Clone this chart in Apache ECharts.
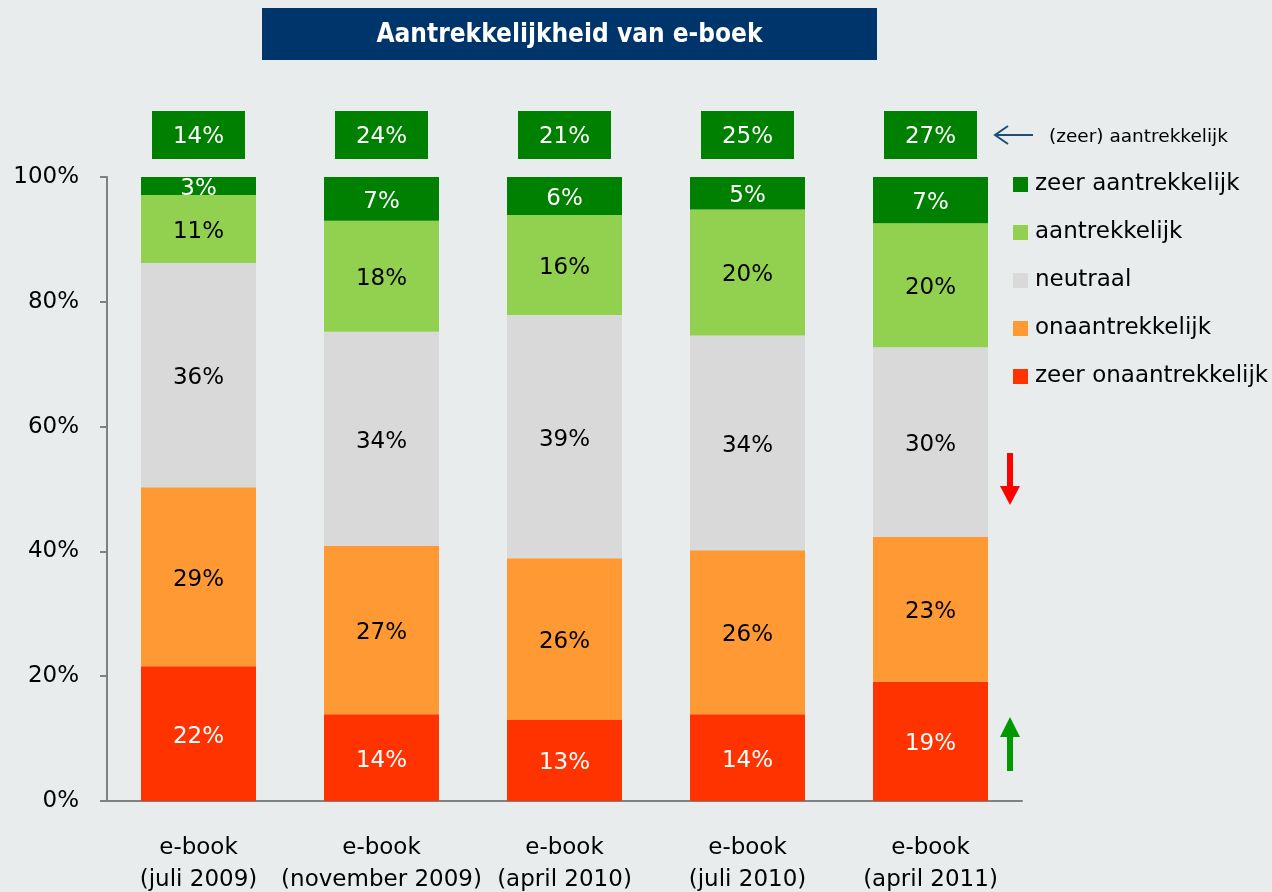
<!DOCTYPE html>
<html>
<head>
<meta charset="utf-8">
<script src="https://cdn.jsdelivr.net/npm/echarts@6/dist/echarts.min.js"></script>
<style>
html, body { margin: 0; padding: 0; background: #E8ECED; }
#main { width: 1272px; height: 892px; }
</style>
</head>
<body>
<div id="main"></div>
<script>
//////////// data //////////////////
var categories = ['e-book\n(juli 2009)', 'e-book\n(november 2009)', 'e-book\n(april 2010)', 'e-book\n(juli 2010)', 'e-book\n(april 2011)'];
var zeerOnaantrekkelijk = [21.6, 13.9, 13.0, 13.9, 19.1];
var onaantrekkelijk = [28.7, 27.0, 25.9, 26.3, 23.2];
var neutraal = [35.9, 34.3, 39.0, 34.4, 30.4];
var aantrekkelijk = [10.9, 17.8, 16.0, 20.2, 19.9];
var zeerAantrekkelijk = [2.9, 7.1, 6.1, 5.2, 7.4];
var totaalAantrekkelijk = [14, 24, 21, 25, 27];
var yTicks = [0, 20, 40, 60, 80, 100];

var font = 'DejaVu Sans';
var fs = 23;

function seg(name, data, color, labelColor) {
    return {
        name: name,
        type: 'bar',
        stack: 'totaal',
        barWidth: 115,
        data: data,
        itemStyle: { color: color },
        label: {
            show: true,
            position: 'inside',
            offset: [0, 3],
            color: labelColor,
            fontFamily: font,
            fontSize: fs,
            formatter: function (p) { return Math.round(p.value) + '%'; }
        },
        emphasis: { disabled: true }
    };
}

var dom = document.getElementById('main');
var myChart = echarts.init(dom, null, { renderer: 'canvas' });
var option = {
    backgroundColor: '#E8ECED',
    animation: false,
    textStyle: { fontFamily: font },
    grid: [
        { left: 107, right: 250, top: 177, bottom: 91, outerBoundsMode: 'none', containLabel: false },
        { left: 107, right: 250, top: 111, height: 48, outerBoundsMode: 'none', containLabel: false }
    ],
    legend: {
        orient: 'vertical',
        left: 1013,
        top: 173,
        padding: 0,
        itemWidth: 15,
        itemHeight: 15,
        itemGap: 25,
        icon: 'rect',
        textStyle: { fontFamily: font, fontSize: fs, color: '#000', lineHeight: 15, padding: [0, 0, 0, 2] },
        data: ['zeer aantrekkelijk', 'aantrekkelijk', 'neutraal', 'onaantrekkelijk', 'zeer onaantrekkelijk']
    },
    xAxis: [{
        type: 'category',
        gridIndex: 0,
        data: categories,
        axisLine: { lineStyle: { color: '#808080', width: 2 } },
        axisTick: { show: false },
        axisLabel: { interval: 0, color: '#000', fontFamily: font, fontSize: fs, lineHeight: 32, margin: 31 }
    }, {
        type: 'category',
        gridIndex: 1,
        data: categories,
        show: false
    }],
    yAxis: [{
        type: 'value',
        gridIndex: 0,
        min: yTicks[0],
        max: yTicks[yTicks.length - 1],
        interval: 20,
        splitLine: { show: false },
        axisLine: { show: true, lineStyle: { color: '#808080', width: 2 } },
        axisTick: { show: true, length: 7, lineStyle: { color: '#808080', width: 2 } },
        axisLabel: { color: '#000', fontFamily: font, fontSize: fs, margin: 28, padding: [6, 0, 0, 0], formatter: '{value}%' }
    }, {
        type: 'value',
        gridIndex: 1,
        min: 0,
        max: 1,
        show: false
    }],
    series: [
        seg('zeer onaantrekkelijk', zeerOnaantrekkelijk, '#FF3300', '#fff'),
        seg('onaantrekkelijk', onaantrekkelijk, '#FF9933', '#000'),
        seg('neutraal', neutraal, '#D9D9D9', '#000'),
        seg('aantrekkelijk', aantrekkelijk, '#92D050', '#000'),
        seg('zeer aantrekkelijk', zeerAantrekkelijk, '#008000', '#fff'),
        {
            name: '(zeer) aantrekkelijk',
            type: 'scatter',
            xAxisIndex: 1,
            yAxisIndex: 1,
            symbol: 'rect',
            symbolSize: [93, 48],
            itemStyle: { color: '#008000', opacity: 1 },
            data: totaalAantrekkelijk.map(function (v, i) { return [i, 0.5, v]; }),
            label: {
                show: true,
                position: 'inside',
                offset: [0, 2],
                color: '#fff',
                fontFamily: font,
                fontSize: fs,
                formatter: function (p) { return p.value[2] + '%'; }
            },
            emphasis: { disabled: true }
        }
    ],
    graphic: [
        { type: 'rect', shape: { x: 262, y: 8, width: 615, height: 52 }, style: { fill: '#00356B' } },
        { type: 'text', x: 569.5, y: 35, style: { text: 'Aantrekkelijkheid van e-boek', fill: '#fff', font: 'bold 26px "DejaVu Sans Condensed", "DejaVu Sans"', align: 'center', verticalAlign: 'middle' } },
        // pijl naar totaal
        { type: 'polyline', shape: { points: [[995, 135], [1033, 135]] }, style: { stroke: '#1F4E79', lineWidth: 2 } },
        { type: 'polyline', shape: { points: [[1008, 126], [995, 135], [1008, 144]] }, style: { stroke: '#1F4E79', lineWidth: 2, fill: null } },
        { type: 'text', x: 1049, y: 137, style: { text: '(zeer) aantrekkelijk', fill: '#000', font: '18.5px "DejaVu Sans"', verticalAlign: 'middle' } },
        // rode pijl omlaag
        { type: 'rect', shape: { x: 1007, y: 453, width: 6, height: 34 }, style: { fill: '#FF0000' } },
        { type: 'polygon', shape: { points: [[1000, 486], [1020, 486], [1010, 505]] }, style: { fill: '#FF0000' } },
        // groene pijl omhoog
        { type: 'polygon', shape: { points: [[1000, 737], [1020, 737], [1010, 717]] }, style: { fill: '#009900' } },
        { type: 'rect', shape: { x: 1007, y: 736, width: 6, height: 35 }, style: { fill: '#009900' } }
    ]
};
myChart.setOption(option);
</script>
</body>
</html>
